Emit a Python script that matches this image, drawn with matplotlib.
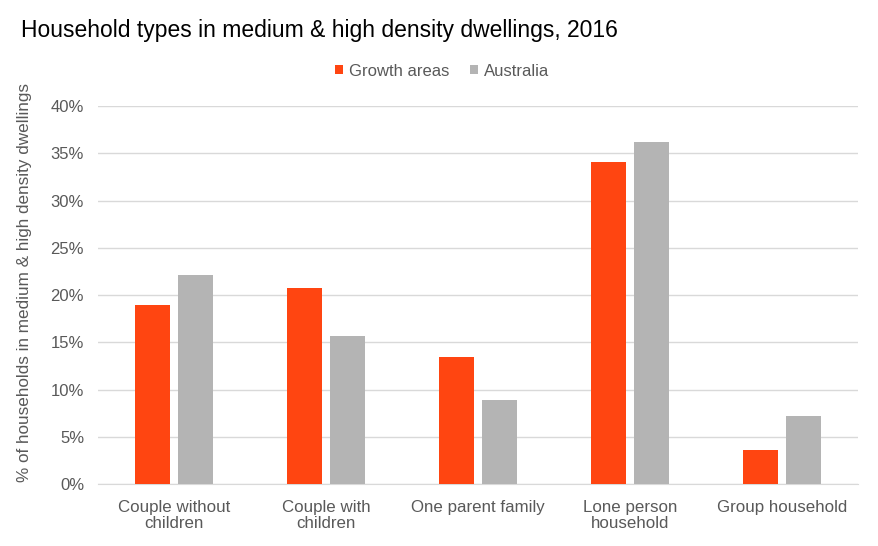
import numpy as np
import matplotlib.pyplot as plt
from matplotlib.ticker import FuncFormatter

plt.rcParams["font.family"] = ["Liberation Sans", "DejaVu Sans"]

categories = ["Couple without\nchildren", "Couple with\nchildren", "One parent family",
              "Lone person\nhousehold", "Group household"]
growth = [19.0, 20.8, 13.5, 34.1, 3.6]
australia = [22.1, 15.7, 8.9, 36.2, 7.2]

fig = plt.figure(figsize=(8.79, 5.46), dpi=100)
ax = fig.add_axes([0.1115, 0.113, 0.8645, 0.693])

x = np.arange(len(categories))
w = 0.23
gap = 0.056
ax.bar(x - (w + gap) / 2, growth, w, color="#FF4511", label="Growth areas", zorder=3)
ax.bar(x + (w + gap) / 2, australia, w, color="#B4B4B4", label="Australia", zorder=3)

ax.set_xlim(-0.5, len(categories) - 0.5)
ax.set_ylim(0, 40)
ax.set_yticks(np.arange(0, 41, 5))
ax.yaxis.set_major_formatter(FuncFormatter(lambda v, p: f"{v:.0f}%"))
ax.set_xticks(x)
ax.set_xticklabels(categories, fontsize=12.2, color="#595959", linespacing=1.15)
ax.tick_params(axis="y", labelsize=12, labelcolor="#595959", length=0, pad=10)
ax.tick_params(axis="x", length=0, pad=11)

ax.grid(axis="y", color="#D9D9D9", linewidth=1, zorder=0)
for s in ["top", "right", "left"]:
    ax.spines[s].set_visible(False)
ax.spines["bottom"].set_color("#D9D9D9")

ax.set_ylabel("% of households in medium & high density dwellings", fontsize=12.3,
              color="#595959")
ax.yaxis.set_label_coords(32 / 879, 1 - 282.5 / 546, transform=fig.transFigure)

fig.text(21.5 / 879, 1 - 37 / 546, "Household types in medium & high density dwellings, 2016",
         fontsize=16.5, color="black", va="baseline")

fig.legend(loc="center", bbox_to_anchor=(0.503, 1 - 71 / 546), ncol=2, frameon=False,
           fontsize=12, labelcolor="#595959", handlelength=0.5, handleheight=0.5,
           handletextpad=0.35, columnspacing=1.2)

plt.savefig("out.png", dpi=100)
